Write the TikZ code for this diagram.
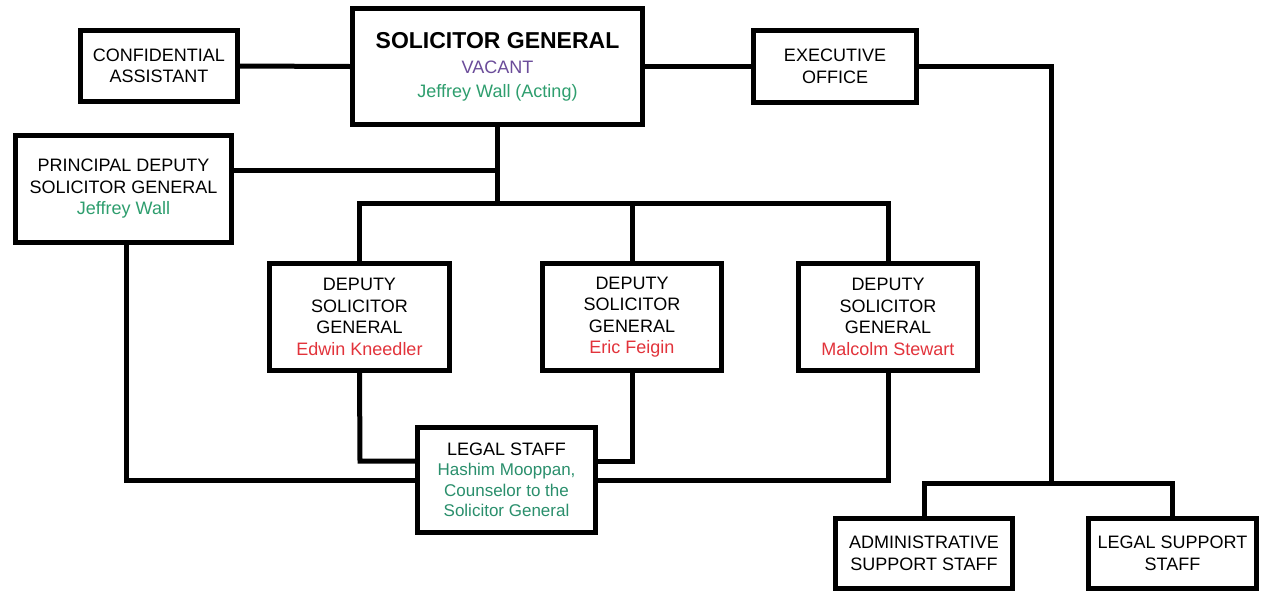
\documentclass[tikz,border=0pt]{standalone}
\usepackage{fontspec}
\setmainfont{Liberation Sans}
\definecolor{vacant}{HTML}{6B4C9A}
\definecolor{actgreen}{HTML}{2E9E6E}
\definecolor{lsgreen}{HTML}{2A8F6C}
\definecolor{dsgred}{HTML}{E2333B}
\begin{document}
\begin{tikzpicture}[x=1pt,y=-1pt,
  box/.style={draw=black,line width=5pt,fill=white,rectangle,inner sep=0pt,
    align=center,font=\fontsize{18}{21.5}\selectfont},
  link/.style={line width=5pt,line join=miter}]
\useasboundingbox[fill=white] (0,0) rectangle (1262,592);

% top row
\node[box,minimum width=157pt,minimum height=71pt] (conf) at (159,66) {CONFIDENTIAL\\ASSISTANT};
\node[box,minimum width=290pt,minimum height=116pt,font=\fontsize{18}{23.5}\selectfont] (sg) at (497.5,66.5)
  {{\fontsize{23}{26}\selectfont\bfseries SOLICITOR GENERAL}\\[2pt]{\color{vacant}VACANT}\\{\color{actgreen}Jeffrey Wall (Acting)}};
\node[box,minimum width=163pt,minimum height=72pt] (exec) at (835,66.5) {EXECUTIVE\\OFFICE};

% principal deputy
\node[box,minimum width=216pt,minimum height=107pt] (pd) at (123.5,189)
  {PRINCIPAL DEPUTY\\SOLICITOR GENERAL\\{\color{actgreen}Jeffrey Wall}};

% deputies
\node[box,minimum width=180pt,minimum height=107pt] (d1) at (359.5,317)
  {DEPUTY\\SOLICITOR\\GENERAL\\{\color{dsgred}Edwin Kneedler}};
\node[box,minimum width=179pt,minimum height=107pt] (d2) at (632,317)
  {DEPUTY\\SOLICITOR\\GENERAL\\{\color{dsgred}Eric Feigin}};
\node[box,minimum width=179pt,minimum height=107pt] (d3) at (888,317)
  {DEPUTY\\SOLICITOR\\GENERAL\\{\color{dsgred}Malcolm Stewart}};

% legal staff
\node[box,minimum width=178pt,minimum height=105pt,font=\fontsize{17}{20.5}\selectfont] (ls) at (506.5,480)
  {{\fontsize{18}{20.5}\selectfont LEGAL STAFF}\\{\color{lsgreen}Hashim Mooppan,}\\{\color{lsgreen}Counselor to the}\\{\color{lsgreen}Solicitor General}};

% support staff
\node[box,minimum width=177pt,minimum height=70pt] (adm) at (924,553.5) {ADMINISTRATIVE\\SUPPORT STAFF};
\node[box,minimum width=168pt,minimum height=70pt] (lss) at (1172.5,553.5) {LEGAL SUPPORT\\STAFF};

% junction points
\coordinate (sgbar) at (497.5,203);
\coordinate (pdjoin) at (497.5,170);
\coordinate (eodrop) at (1051,483);
\coordinate (lowL) at (360,461);
\coordinate (lowR) at (632,461);
\coordinate (pdL) at (126,480);
\coordinate (d3R) at (888,480);

% connectors
\draw[link] (conf.east) -- (sg.west);
\draw[link] (sg.east) -- (exec.east -| exec.west);
\draw[link] (exec.east) -| (eodrop);
\draw[link] (adm.north) |- (eodrop) -| (lss.north);
\draw[link] (sg.south) -- (sgbar);
\draw[link] (pd.east |- pdjoin) -- (pdjoin);
\draw[link] (d1.north) |- (sgbar) -| (d3.north);
\draw[link] (d2.north) -- (d2.north |- sgbar);
\draw[link] (d1.south) -- (lowL) -- (ls.west |- lowL);
\draw[link] (d2.south) -- (lowR) -- (ls.east |- lowR);
\draw[link] (pd.south -| pdL) -- (pdL) -- (ls.west |- pdL);
\draw[link] (d3.south) -- (d3R) -- (ls.east |- d3R);
\end{tikzpicture}
\end{document}
